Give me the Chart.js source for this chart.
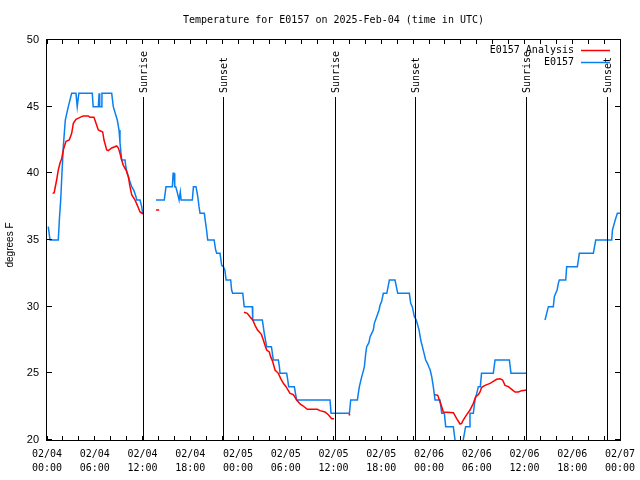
<!DOCTYPE html>
<html>
<head>
<meta charset="utf-8">
<script src="https://cdn.jsdelivr.net/npm/chart.js@4.4.0/dist/chart.umd.min.js"></script>
<style>
html,body{margin:0;padding:0;background:#fff}
</style>
</head>
<body>
<canvas id="c" width="640" height="480"></canvas>
<script>
// Temperature for E0157, hours since 02/04 00:00 UTC

const chartTitle = 'Temperature for E0157 on 2025-Feb-04 (time in UTC)';
const yTitle = 'degrees F';

const tickHours = [0,2,4,6,8,10,12,14,16,18,20,22,24,26,28,30,32,34,36,38,40,42,44,46,48,50,52,54,56,58,60,62,64,66,68,70,72];
const labelHours = [0,6,12,18,24,30,36,42,48,54,60,66,72];
const labelDates = ['02/04','02/04','02/04','02/04','02/05','02/05','02/05','02/05','02/06','02/06','02/06','02/06','02/07'];
const labelTimes = ['00:00','06:00','12:00','18:00','00:00','06:00','12:00','18:00','00:00','06:00','12:00','18:00','00:00'];

const sunriseHours = [12.1, 36.2, 60.2];
const sunsetHours = [22.15, 46.3, 70.4];

// E0157 observations (null = gap)
const obsHours = [
  0.16,0.38,1.42,1.55,1.72,1.88,2.05,2.3,2.68,3.1,3.64,3.8,4.0,5.69,5.8,6.45,6.55,6.62,6.8,6.9,
  8.13,8.33,8.83,9.05,9.17,9.38,9.8,9.93,10.1,10.35,10.64,10.93,11.18,11.27,11.69,11.9,12.02,12.5,
  13.7,14.74,14.95,15.75,15.85,15.96,16.05,16.17,16.4,16.6,16.75,16.85,18.26,18.4,18.72,18.88,19.0,19.1,19.23,
  19.77,19.9,20.05,20.19,21.0,21.18,21.32,21.74,21.95,22.16,22.35,22.5,23.08,23.2,23.33,24.6,24.78,25.8,25.85,
  27.06,27.18,27.3,27.45,27.6,28.2,28.32,28.44,29.07,29.2,29.28,30.12,30.25,30.37,31.08,31.22,31.37,35.56,35.69,
  38.0,38.16,39.0,39.12,39.25,39.55,39.67,39.88,40.05,40.17,40.45,40.6,40.8,41.0,41.13,41.43,41.72,41.85,42.05,
  42.26,42.7,43.02,43.73,44.07,45.53,45.7,45.9,46.16,46.4,46.75,46.96,47.17,47.38,47.58,47.8,48.04,48.15,48.34,
  48.54,48.76,49.38,49.6,49.93,50.1,51.06,51.27,51.6,52.0,52.3,52.6,53.07,53.15,53.57,53.78,54.0,54.2,54.45,
  54.6,56.08,56.3,58.1,58.3,60.28,61.5,
  62.58,62.7,63.0,63.62,63.75,63.92,64.1,64.25,64.38,65.18,65.3,66.64,66.77,66.89,68.65,68.8,68.95,70.96,71.05,
  71.17,71.4,71.67,72.0
];
const obsTemps = [
  36,35,35,36.5,38,40,42,44,45,46,46,45,46,46,45,45,46,45,45,46,
  46,45,44,43.25,42.3,41,41,40.4,40,39.5,39,38.7,38.25,38,38,37.5,37,null,
  38,38,39,39,40,40,39,39,38.5,38,38.6,38,38,39,39,38.5,38,37.5,37,
  37,36.4,35.75,35,35,34.3,34,34,33.1,33,32.75,32,32,31.25,31,31,30,30,29,
  29,28.5,28,27.5,27,27,26.5,26,26,25.5,25,25,24.5,24,24,23.5,23,23,22,
  22,23,23,23.5,24,24.75,25,25.5,26.5,27,27.3,27.75,28,28.25,28.75,29.25,29.75,30.1,30.4,
  31,31,32,32,31,31,30.25,30,29.25,29,28.25,27.5,27,26.5,26,25.75,25.4,25.25,24.75,
  24,23,23,22,22,21,21,20,19.5,19.5,20,21,21,22,22,23,23.5,24,24,
  25,25,26,26,25,25,null,
  29,29,30,30,30.75,31,31.25,31.75,32,32,33,33,33.5,34,34,34.5,35,35,35.75,
  36,36.5,37,37
];

// E0157 Analysis (null = gap)
const anaHours = [
  0.71,0.9,1.21,1.42,1.63,1.84,2.05,2.39,2.8,3.1,3.31,3.64,4.15,4.56,5.19,5.4,5.9,6.16,6.45,7.0,
  7.16,7.5,7.7,8.13,8.76,8.97,9.17,9.38,9.59,9.93,10.22,10.43,10.64,11.06,11.35,11.69,12.1,12.6,
  13.7,14.1,14.5,
  24.75,25.17,25.5,25.85,26.14,26.45,26.76,26.95,27.18,27.39,27.6,27.93,28.1,28.35,28.65,29.07,29.37,29.7,30.03,
  30.54,30.95,31.37,31.8,32.2,32.7,33.97,34.3,34.93,35.35,35.77,36.06,36.5,
  37.9,38.1,38.5,
  48.76,49.1,49.3,49.6,49.8,51.06,51.48,51.9,52.1,52.3,52.74,53.15,53.57,53.87,54.2,54.41,54.62,55.04,55.67,
  56.08,56.5,56.92,57.25,57.55,57.97,58.4,58.81,59.23,59.65,60.28
];
const anaTemps = [
  38.5,38.55,39.5,40.25,40.75,41.1,41.75,42.4,42.5,43,43.75,44.05,44.2,44.3,44.3,44.2,44.2,43.75,43.25,43.1,
  42.5,41.75,41.7,41.9,42.05,41.9,41.5,41.0,40.6,40.25,39.75,39,38.4,38,37.6,37.1,36.95,null,
  37.25,37.25,null,
  29.58,29.5,29.25,29,28.6,28.25,28.05,27.9,27.5,27.1,26.75,26.6,26.25,25.9,25.25,25,24.6,24.25,24,
  23.5,23.4,23,22.7,22.55,22.3,22.3,22.2,22.1,21.9,21.6,21.6,null,
  21.9,21.9,null,
  23.4,23.35,23,22.5,22.1,22.05,21.6,21.2,21.25,21.5,21.9,22.25,22.75,23.25,23.4,23.6,23.95,24.1,24.25,
  24.4,24.55,24.6,24.5,24.1,24.0,23.8,23.6,23.6,23.7,23.75
];

const MONO = 'DejaVu Sans Mono';
const SANS = 'Liberation Sans';

const decor = {
  id: 'decor',
  afterDatasetsDraw(chart) {
    const ctx = chart.ctx;
    const a = chart.chartArea;
    const xs = chart.scales.x, ys = chart.scales.y;
    ctx.save();
    ctx.strokeStyle = '#000';
    ctx.fillStyle = '#000';
    ctx.lineWidth = 1;

    // frame
    ctx.strokeRect(a.left - 0.5, a.top - 0.5, a.right - a.left + 1, a.bottom - a.top + 1);

    // inward ticks
    ctx.beginPath();
    tickHours.forEach(h => {
      const px = Math.floor(xs.getPixelForValue(h)) + 0.5;
      ctx.moveTo(px, a.bottom); ctx.lineTo(px, a.bottom - 4);
      ctx.moveTo(px, a.top); ctx.lineTo(px, a.top + 4);
    });
    ys.ticks.forEach(t => {
      const py = Math.round(ys.getPixelForValue(t.value)) - 0.5;
      ctx.moveTo(a.left, py); ctx.lineTo(a.left + 5, py);
      ctx.moveTo(a.right, py); ctx.lineTo(a.right - 5, py);
    });
    ctx.stroke();

    // sunrise / sunset markers
    const marks = sunriseHours.map(h => [h, 'Sunrise']).concat(sunsetHours.map(h => [h, 'Sunset']));
    ctx.font = '10px "' + MONO + '"';
    marks.forEach(([h, txt]) => {
      const px = Math.floor(xs.getPixelForValue(h)) + 0.5;
      ctx.beginPath();
      ctx.moveTo(px, 97); ctx.lineTo(px, a.bottom);
      ctx.stroke();
      ctx.save();
      ctx.translate(px + 0.5, 93);
      ctx.rotate(-Math.PI / 2);
      ctx.textAlign = 'left';
      ctx.textBaseline = 'middle';
      ctx.fillText(txt, 0, 0);
      ctx.restore();
    });

    // legend
    ctx.textAlign = 'right';
    ctx.textBaseline = 'middle';
    chart.data.datasets.forEach((ds, i) => {
      const y = 50 + i * 12;
      ctx.fillStyle = '#000';
      ctx.fillText(ds.label, 574, y);
      ctx.strokeStyle = ds.borderColor;
      ctx.lineWidth = 1.5;
      ctx.beginPath();
      ctx.moveTo(581, y + 0.5); ctx.lineTo(610, y + 0.5);
      ctx.stroke();
    });

    // title
    ctx.fillStyle = '#000';
    ctx.textAlign = 'center';
    ctx.fillText(chartTitle, (a.left + a.right) / 2, 20);

    // y axis title
    ctx.font = '10px "' + SANS + '"';
    ctx.translate(10, (a.top + a.bottom) / 2 + 5);
    ctx.rotate(-Math.PI / 2);
    ctx.fillText(yTitle, 0, 0);
    ctx.restore();
  }
};

new Chart(document.getElementById('c').getContext('2d'), {
  type: 'line',
  data: {
    datasets: [
      {
        label: 'E0157 Analysis',
        data: anaHours.map((h, i) => ({x: h, y: anaTemps[i]})),
        borderColor: '#ff0000',
        borderWidth: 1.5,
        pointRadius: 0,
        spanGaps: false,
        clip: 0
      },
      {
        label: 'E0157',
        data: obsHours.map((h, i) => ({x: h, y: obsTemps[i]})),
        borderColor: '#0a80f0',
        borderWidth: 1.5,
        pointRadius: 0,
        spanGaps: false,
        clip: 0
      }
    ]
  },
  options: {
    responsive: false,
    animation: false,
    layout: {padding: {left: 0, right: 20, top: 40, bottom: 0}},
    plugins: {legend: {display: false}, title: {display: false}, tooltip: {enabled: false}},
    elements: {line: {tension: 0}},
    scales: {
      x: {
        type: 'linear', min: 0, max: 72,
        afterFit: s => { s.height = 40; s.paddingLeft = 0; s.paddingRight = 0; },
        afterBuildTicks: s => { s.ticks = tickHours.map(v => ({value: v})); },
        grid: {display: false, drawTicks: false},
        border: {display: false},
        ticks: {
          autoSkip: false, maxRotation: 0, padding: 8, color: '#000',
          font: {family: MONO, size: 10, lineHeight: 1.33},
          callback: v => {
            const i = labelHours.indexOf(v);
            return i < 0 ? '' : [labelDates[i], labelTimes[i]];
          }
        }
      },
      y: {
        min: 20, max: 50,
        afterFit: s => { s.width = 47; s.paddingTop = 0; s.paddingBottom = 0; },
        grid: {display: false, drawTicks: false},
        border: {display: false},
        ticks: {stepSize: 5, padding: 8, color: '#000', font: {family: SANS, size: 11}}
      }
    }
  },
  plugins: [decor]
});
</script>
</body>
</html>
